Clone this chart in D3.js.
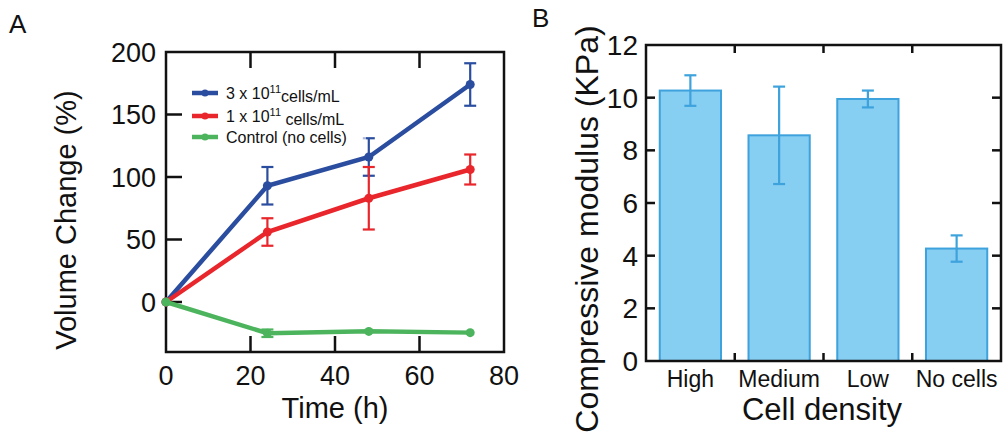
<!DOCTYPE html>
<html>
<head>
<meta charset="utf-8">
<script src="https://cdn.jsdelivr.net/npm/d3@7"></script>
<style>
  body { margin: 0; background: #fff; }
  svg { display: block; font-family: "Liberation Sans", Arial, Helvetica, sans-serif; }
</style>
</head>
<body>
<svg id="chart" width="1003" height="438"></svg>
<script>
// panel A data: volume change over time
var times = [0, 24, 48, 72]
var seriesNames = ["3 x 10", "1 x 10", "Control (no cells)"]
var highVals = [0, 93, 116, 174]
var highErr = [0, 15, 15, 17]
var lowVals = [0, 56, 83, 106]
var lowErr = [0, 11, 25, 12]
var ctrlVals = [0, -25, -23.5, -24.5]
var ctrlErr = [0, 3, 0, 0]
var xTicksA = [0, 20, 40, 60, 80]
var yTicksA = [0, 50, 100, 150, 200]

// panel B data: compressive modulus
var densities = ["High", "Medium", "Low", "No cells"]
var modulus = [10.27, 8.57, 9.95, 4.27]
var modulusErr = [0.58, 1.85, 0.32, 0.5]
var yTicksB = [0, 2, 4, 6, 8, 10, 12]

var colors = ["#2a4d9f", "#e8262b", "#4db45e"]

var svg = d3.select("#chart")

// ---------- panel A ----------
var ax = { left: 166, right: 504, top: 52, bottom: 352 }

var x = d3.scaleLinear().domain([0, 80]).range([ax.left, ax.right])
var y = d3.scaleLinear().domain([-40, 200]).range([ax.bottom, ax.top])

var gA = svg.append("g")

// inward ticks
gA.selectAll(".tb").data(xTicksA.slice(1, -1)).enter().append("line")
  .attr("x1", d => x(d)).attr("x2", d => x(d))
  .attr("y1", ax.bottom).attr("y2", ax.bottom - 16)
  .attr("stroke", "#111").attr("stroke-width", 2.5)
gA.selectAll(".tt").data(xTicksA.slice(1, -1)).enter().append("line")
  .attr("x1", d => x(d)).attr("x2", d => x(d))
  .attr("y1", ax.top).attr("y2", ax.top + 16)
  .attr("stroke", "#111").attr("stroke-width", 2.5)
gA.selectAll(".tl").data(yTicksA.slice(0, -1)).enter().append("line")
  .attr("x1", ax.left).attr("x2", ax.left + 16)
  .attr("y1", d => y(d)).attr("y2", d => y(d))
  .attr("stroke", "#111").attr("stroke-width", 2.5)

gA.append("rect")
  .attr("x", ax.left).attr("y", ax.top)
  .attr("width", ax.right - ax.left).attr("height", ax.bottom - ax.top)
  .attr("fill", "none").attr("stroke", "#111").attr("stroke-width", 2.5)

gA.selectAll(".xl").data(xTicksA).enter().append("text")
  .attr("x", d => x(d)).attr("y", 385)
  .attr("text-anchor", "middle").attr("font-size", 27).attr("fill", "#111")
  .text(d => d)
gA.selectAll(".yl").data(yTicksA).enter().append("text")
  .attr("x", 156).attr("y", d => y(d)).attr("dy", "0.36em")
  .attr("text-anchor", "end").attr("font-size", 27).attr("fill", "#111")
  .text(d => d)

gA.append("text").attr("x", 335).attr("y", 418)
  .attr("text-anchor", "middle").attr("font-size", 29).attr("fill", "#111")
  .text("Time (h)")
gA.append("text")
  .attr("transform", "translate(66,220) rotate(-90)")
  .attr("dy", "0.35em")
  .attr("text-anchor", "middle").attr("font-size", 29).attr("fill", "#111")
  .text("Volume Change (%)")

svg.append("text").attr("x", 9).attr("y", 33)
  .attr("font-size", 26).attr("fill", "#111").text("A")

var series = [
  { vals: highVals, err: highErr, color: colors[0] },
  { vals: lowVals, err: lowErr, color: colors[1] },
  { vals: ctrlVals, err: ctrlErr, color: colors[2] }
]

var line = d3.line().x((d, i) => x(times[i])).y(d => y(d))

series.forEach(function(s) {
  var g = gA.append("g")
  g.append("path").attr("d", line(s.vals))
    .attr("fill", "none").attr("stroke", s.color).attr("stroke-width", 4.5)
  var pts = s.vals.map((v, i) => ({ t: times[i], v: v, e: s.err[i] })).filter(p => p.e > 0)
  g.selectAll(".ev").data(pts).enter().append("line")
    .attr("x1", d => x(d.t)).attr("x2", d => x(d.t))
    .attr("y1", d => y(d.v - d.e)).attr("y2", d => y(d.v + d.e))
    .attr("stroke", s.color).attr("stroke-width", 2.2)
  ;[1, -1].forEach(function(sg) {
    g.selectAll(".ec").data(pts).enter().append("line")
      .attr("x1", d => x(d.t) - 6).attr("x2", d => x(d.t) + 6)
      .attr("y1", d => y(d.v + sg * d.e)).attr("y2", d => y(d.v + sg * d.e))
      .attr("stroke", s.color).attr("stroke-width", 2.2)
  })
  g.selectAll("circle").data(s.vals).enter().append("circle")
    .attr("cx", (d, i) => x(times[i])).attr("cy", d => y(d))
    .attr("r", 4.5).attr("fill", s.color)
})

// legend
var legY = [93, 116, 137]
var leg = gA.append("g")
leg.append("rect").attr("x", 188).attr("y", 79).attr("width", 178).attr("height", 68)
  .attr("fill", "#fff").attr("fill-opacity", 0.6)
seriesNames.forEach(function(n, i) {
  leg.append("line").attr("x1", 192).attr("x2", 218)
    .attr("y1", legY[i]).attr("y2", legY[i])
    .attr("stroke", colors[i]).attr("stroke-width", 4.5)
  leg.append("circle").attr("cx", 205).attr("cy", legY[i]).attr("r", 3.5).attr("fill", colors[i])
  var t = leg.append("text").attr("x", 226).attr("y", legY[i]).attr("dy", "0.36em")
    .attr("font-size", 16).attr("fill", "#111")
  if (i < 2) {
    t.append("tspan").text(n)
    t.append("tspan").attr("dy", "-0.55em").attr("font-size", 11).text("11")
    t.append("tspan").attr("dy", "0.55em").text(i == 0 ? "cells/mL" : " cells/mL")
  } else {
    t.text(n)
  }
})

// ---------- panel B ----------
var bx = { left: 646, right: 1001, top: 45, bottom: 361 }

var xb = d3.scaleBand().domain(densities).range([bx.left, bx.right])
  .paddingInner(0.31).paddingOuter(0.155)
var yb = d3.scaleLinear().domain([0, 12]).range([bx.bottom, bx.top])

var gB = svg.append("g")

var barColor = "#87cef3", barEdge = "#3ea2dc"

gB.selectAll(".bar").data(modulus).enter().append("rect")
  .attr("x", (d, i) => xb(densities[i]))
  .attr("y", d => yb(d))
  .attr("width", xb.bandwidth())
  .attr("height", d => yb(0) - yb(d))
  .attr("fill", barColor).attr("stroke", barEdge).attr("stroke-width", 2)

gB.selectAll(".err").data(modulus).enter().append("g").each(function(d, i) {
  var cx = xb(densities[i]) + xb.bandwidth() / 2
  var e = modulusErr[i]
  var g = d3.select(this)
  g.append("line").attr("x1", cx).attr("x2", cx)
    .attr("y1", yb(d - e)).attr("y2", yb(d + e))
    .attr("stroke", barEdge).attr("stroke-width", 2.2)
  ;[d - e, d + e].forEach(function(v) {
    g.append("line").attr("x1", cx - 6).attr("x2", cx + 6)
      .attr("y1", yb(v)).attr("y2", yb(v))
      .attr("stroke", barEdge).attr("stroke-width", 2.2)
  })
})

// ticks between bars, inward
var between = densities.slice(1).map(c => xb(c) - xb.step() * xb.paddingInner() / 2)
gB.selectAll(".tb").data(between).enter().append("line")
  .attr("x1", d => d).attr("x2", d => d)
  .attr("y1", bx.bottom).attr("y2", bx.bottom - 8)
  .attr("stroke", "#111").attr("stroke-width", 2.5)
gB.selectAll(".tt").data(between).enter().append("line")
  .attr("x1", d => d).attr("x2", d => d)
  .attr("y1", bx.top).attr("y2", bx.top + 8)
  .attr("stroke", "#111").attr("stroke-width", 2.5)
;[bx.left, bx.right].forEach(function(xe, k) {
  gB.selectAll(".ty" + k).data(yTicksB.slice(1, -1)).enter().append("line")
    .attr("x1", xe).attr("x2", k == 0 ? xe + 9 : xe - 9)
    .attr("y1", d => yb(d)).attr("y2", d => yb(d))
    .attr("stroke", "#111").attr("stroke-width", 2.5)
})

gB.append("rect")
  .attr("x", bx.left).attr("y", bx.top)
  .attr("width", bx.right - bx.left).attr("height", bx.bottom - bx.top)
  .attr("fill", "none").attr("stroke", "#111").attr("stroke-width", 2.5)

gB.selectAll(".yl").data(yTicksB).enter().append("text")
  .attr("x", 638).attr("y", d => yb(d)).attr("dy", "0.36em")
  .attr("text-anchor", "end").attr("font-size", 28).attr("fill", "#111")
  .text(d => d)
gB.selectAll(".xl").data(densities).enter().append("text")
  .attr("x", d => xb(d) + xb.bandwidth() / 2).attr("y", 387)
  .attr("text-anchor", "middle").attr("font-size", 23).attr("fill", "#111")
  .text(d => d)

gB.append("text").attr("x", 822).attr("y", 420)
  .attr("text-anchor", "middle").attr("font-size", 31).attr("fill", "#111")
  .text("Cell density")
gB.append("text")
  .attr("transform", "translate(587,229) rotate(-90)")
  .attr("dy", "0.35em")
  .attr("text-anchor", "middle").attr("font-size", 32).attr("fill", "#111")
  .text("Compressive modulus (KPa)")

svg.append("text").attr("x", 532).attr("y", 27)
  .attr("font-size", 26).attr("fill", "#111").text("B")
</script>
</body>
</html>
